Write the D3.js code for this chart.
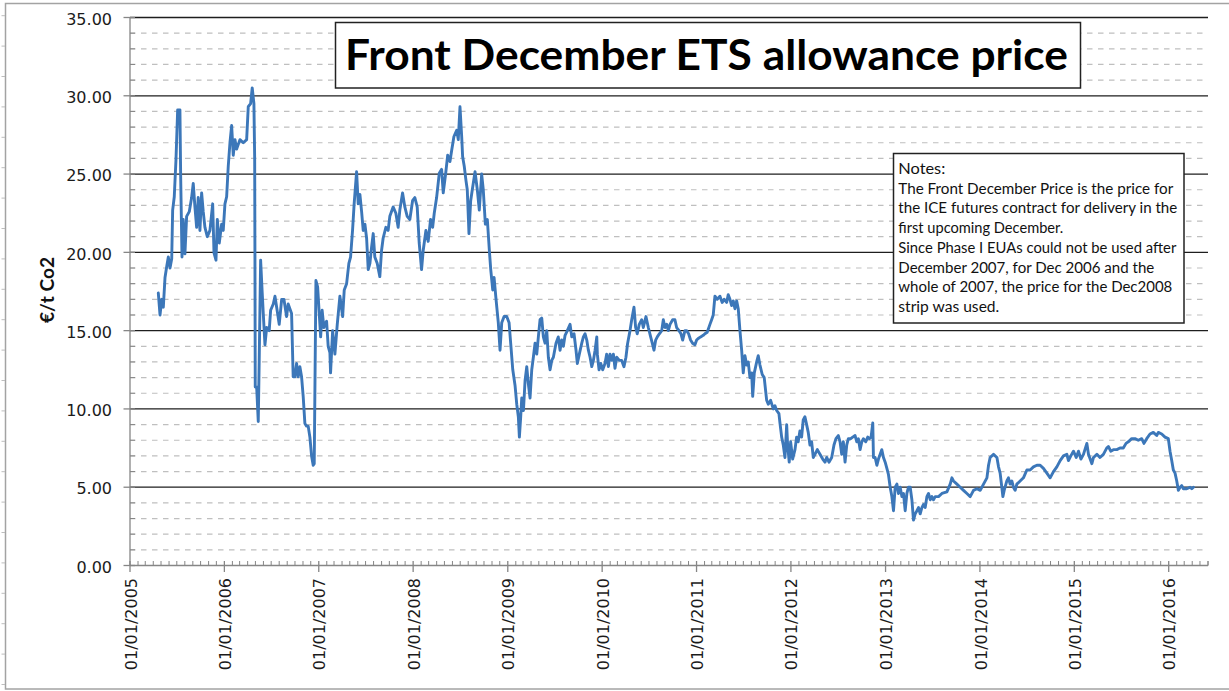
<!DOCTYPE html>
<html><head><meta charset="utf-8">
<script src="https://cdn.jsdelivr.net/npm/d3@7"></script>
<style>body{margin:0;background:#fff} svg{display:block}</style>
</head><body>
<svg id="chart" width="1229" height="691"></svg>
<script>
// ---------- DATA ----------
const titleText = "Front December ETS allowance price";
const yAxisLabel = "€/t Co2";
const yTickValues = [0, 5, 10, 15, 20, 25, 30, 35];
const xTickYears = [2005, 2006, 2007, 2008, 2009, 2010, 2011, 2012, 2013, 2014, 2015, 2016];
const notesLines = [
  "Notes:",
  "The Front December Price is the price for",
  "the ICE futures contract for delivery in the",
  "first upcoming December.",
  "Since Phase I EUAs could not be used after",
  "December 2007, for Dec 2006 and the",
  "whole of 2007, the price for the Dec2008",
  "strip was used."
];
const notesWidths = [47, 275, 279, 165, 278, 256, 274, 101];

// [fraction of year, €/t]
const p2005 = [[.300,17.4],[.318,16.0],[.336,17.0],[.353,16.5],[.371,18.4],[.389,19.1],[.406,19.7],[.424,19.0],[.442,19.6],[.452,22.7],[.469,23.55],[.487,25.9],[.505,29.1],[.529,29.1],[.537,24.8],[.551,19.7],[.564,22.1],[.582,19.9],[.600,22.3],[.628,22.6],[.653,23.5],[.670,24.4],[.688,22.9],[.706,21.6],[.723,23.5],[.741,21.4],[.759,23.8],[.776,22.6],[.794,21.6],[.819,21.0],[.847,21.4],[.876,23.1],[.890,19.97],[.911,19.5],[.925,22.1],[.946,20.6],[.971,21.8],[.988,21.4]];
const p2006 = [[.006,23.1],[.024,23.55],[.041,25.5],[.059,27.0],[.077,28.1],[.094,26.2],[.112,27.2],[.130,26.6],[.165,27.2],[.200,27.0],[.236,27.2],[.253,29.3],[.278,29.5],[.295,30.5],[.313,29.5],[.321,26.0],[.324,19.5],[.327,11.4],[.342,11.4],[.359,9.2],[.369,13.1],[.384,19.5],[.401,17.4],[.412,16.1],[.430,14.1],[.448,15.2],[.475,15.0],[.490,16.3],[.518,16.7],[.536,17.2],[.554,16.5],[.581,15.4],[.607,17.0],[.631,17.0],[.659,15.9],[.676,16.7],[.712,16.1],[.729,12.05],[.747,12.05],[.765,12.9],[.782,12.05],[.800,12.7],[.818,12.05],[.835,10.8],[.853,9.07],[.871,8.9],[.888,8.9],[.906,8.2],[.924,7.0],[.941,6.4],[.952,6.5],[.970,18.2],[.988,17.8]];
const p2007 = [[.005,16.1],[.020,14.6],[.036,16.3],[.054,15.2],[.065,15.4],[.083,15.6],[.100,14.0],[.118,13.6],[.125,12.3],[.147,15.0],[.171,13.5],[.196,15.4],[.224,17.2],[.253,15.9],[.270,17.6],[.295,18.0],[.319,19.3],[.337,19.7],[.358,21.4],[.375,23.1],[.401,25.15],[.418,23.1],[.436,23.7],[.454,22.6],[.471,21.4],[.489,21.8],[.507,20.9],[.524,18.9],[.542,19.3],[.559,20.3],[.577,21.2],[.594,19.7],[.619,19.3],[.647,18.45],[.665,20.1],[.682,20.9],[.711,21.6],[.735,21.4],[.753,22.3],[.788,22.9],[.817,22.5],[.841,21.6],[.859,22.7],[.888,23.8],[.912,22.9],[.937,22.3],[.965,22.1],[.994,23.3]];
const p2008 = [[.018,23.5],[.043,22.9],[.064,20.6],[.089,18.9],[.106,20.1],[.135,21.4],[.159,20.7],[.184,22.1],[.206,21.6],[.223,22.5],[.248,23.5],[.276,25.05],[.301,25.3],[.318,23.8],[.344,25.05],[.365,26.2],[.389,25.8],[.407,26.5],[.431,27.4],[.460,27.8],[.477,27.2],[.495,29.3],[.513,27.4],[.523,26.1],[.540,25.5],[.558,24.6],[.572,24.0],[.590,21.2],[.608,23.3],[.625,24.0],[.654,25.15],[.678,24.0],[.699,22.7],[.724,25.0],[.741,24.0],[.763,21.8],[.784,22.1],[.805,20.15],[.820,18.9],[.841,17.6],[.855,18.4],[.876,17.0],[.900,15.5],[.918,13.75],[.936,15.5],[.961,15.9],[.989,15.9]];
const p2009 = [[.014,15.5],[.032,14.1],[.053,12.5],[.077,11.5],[.095,10.3],[.112,9.5],[.123,8.2],[.137,9.5],[.148,10.7],[.166,9.9],[.183,11.8],[.201,12.7],[.218,11.6],[.236,10.7],[.254,12.5],[.271,13.3],[.289,14.2],[.307,13.5],[.324,14.6],[.342,15.7],[.360,15.8],[.377,14.6],[.395,14.2],[.413,15.0],[.430,13.3],[.448,12.5],[.466,13.1],[.483,13.3],[.511,14.2],[.535,14.6],[.554,13.75],[.571,14.4],[.589,14.0],[.607,14.7],[.631,15.0],[.660,15.4],[.678,14.6],[.702,14.8],[.723,13.75],[.737,12.9],[.758,13.5],[.784,14.2],[.801,14.6],[.819,14.8],[.837,14.4],[.854,13.75],[.872,13.3],[.890,12.7],[.907,13.1],[.925,13.75],[.943,14.6],[.949,13.5],[.967,12.5],[.985,12.9]];
const p2010 = [[.006,12.5],[.030,12.9],[.048,13.5],[.066,12.7],[.083,13.5],[.101,13.1],[.119,13.5],[.136,12.6],[.154,13.3],[.182,13.1],[.207,13.1],[.231,12.7],[.252,13.3],[.270,14.2],[.295,15.0],[.313,15.7],[.337,16.5],[.355,15.2],[.372,14.8],[.393,15.4],[.419,15.7],[.436,15.2],[.464,15.9],[.489,15.2],[.514,14.6],[.531,14.2],[.549,13.75],[.567,14.4],[.584,14.6],[.606,14.8],[.631,15.0],[.648,15.7],[.666,15.2],[.684,15.4],[.701,15.0],[.719,15.4],[.747,15.7],[.771,15.7],[.789,15.2],[.814,15.0],[.835,14.8],[.853,14.4],[.877,15.0],[.895,15.0],[.916,14.8],[.937,14.4],[.958,14.2],[.983,14.1]];
const p2011 = [[.001,14.4],[.018,14.5],[.043,14.6],[.071,14.7],[.089,14.8],[.113,14.9],[.142,15.4],[.160,15.7],[.177,16.0],[.195,17.2],[.219,17.0],[.248,17.2],[.272,16.8],[.293,17.0],[.319,16.8],[.336,17.3],[.354,17.0],[.372,16.6],[.389,16.9],[.407,16.4],[.425,16.9],[.442,16.4],[.460,15.0],[.478,13.75],[.495,12.3],[.513,13.4],[.531,12.8],[.548,13.0],[.566,12.0],[.584,12.3],[.595,10.8],[.612,12.3],[.637,13.0],[.654,13.4],[.672,12.8],[.696,12.2],[.717,12.0],[.743,10.55],[.760,10.3],[.785,10.55],[.813,10.0],[.831,10.2],[.849,9.9],[.873,9.7],[.884,9.1],[.902,8.2],[.919,7.7],[.937,6.9],[.955,9.0],[.965,7.7],[.982,6.6],[.997,7.9]];
const p2012 = [[.018,6.8],[.043,7.4],[.060,8.2],[.077,7.9],[.095,8.6],[.113,8.2],[.130,9.3],[.148,9.5],[.166,9.0],[.183,8.5],[.201,7.7],[.219,7.9],[.236,6.9],[.254,7.1],[.279,7.4],[.307,7.1],[.336,6.8],[.360,6.6],[.378,6.9],[.402,6.6],[.431,6.9],[.455,7.7],[.476,8.1],[.501,8.3],[.519,7.9],[.537,7.1],[.554,7.9],[.572,6.6],[.590,7.7],[.607,8.1],[.632,8.1],[.653,8.2],[.678,8.3],[.696,7.9],[.713,8.1],[.731,7.4],[.749,7.9],[.766,8.1],[.791,7.9],[.812,8.2],[.829,8.1],[.847,8.2],[.865,9.1],[.872,6.9],[.890,6.9],[.908,6.4],[.925,6.8],[.943,7.1],[.960,7.4],[.978,6.9],[.996,6.6]];
const p2013 = [[.014,6.2],[.031,5.8],[.049,5.0],[.067,4.4],[.084,3.5],[.102,5.0],[.120,5.2],[.137,4.6],[.155,5.0],[.173,4.4],[.190,4.6],[.208,3.5],[.226,4.6],[.243,5.0],[.261,5.0],[.279,4.2],[.296,2.9],[.314,3.3],[.332,3.5],[.349,3.7],[.367,3.3],[.385,3.7],[.402,3.9],[.420,3.7],[.438,4.4],[.455,4.6],[.473,4.2],[.491,4.4],[.508,4.2],[.526,4.4],[.561,4.4],[.597,4.6],[.650,4.7],[.685,5.2],[.703,5.6],[.720,5.4],[.756,5.2],[.791,5.0],[.826,4.8],[.862,4.6],[.897,4.4],[.932,4.8],[.968,4.9]];
const p2014 = [[.003,4.8],[.038,5.2],[.074,5.6],[.091,6.4],[.108,6.9],[.144,7.1],[.180,6.9],[.197,6.3],[.214,5.9],[.232,5.0],[.243,4.4],[.257,4.8],[.285,5.4],[.302,5.6],[.320,5.2],[.338,5.4],[.355,5.0],[.373,4.8],[.391,5.2],[.426,5.4],[.461,5.6],[.497,6.1],[.532,6.1],[.567,6.3],[.603,6.4],[.638,6.4],[.673,6.2],[.709,5.9],[.744,5.6],[.779,6.0],[.815,6.3],[.850,6.7],[.885,7.0],[.921,7.1],[.938,6.7],[.963,7.0],[.991,7.3]];
const p2015 = [[.020,6.9],[.044,7.3],[.070,6.8],[.097,7.1],[.133,7.8],[.150,7.1],[.168,6.8],[.186,6.5],[.203,6.9],[.239,7.1],[.272,6.9],[.308,7.1],[.343,7.5],[.361,7.6],[.386,7.3],[.414,7.4],[.450,7.4],[.484,7.5],[.519,7.5],[.548,7.8],[.572,7.9],[.608,8.1],[.643,8.1],[.678,8.0],[.714,8.1],[.738,7.8],[.767,8.1],[.802,8.4],[.837,8.5],[.873,8.3],[.890,8.5],[.926,8.4],[.961,8.2],[.996,8.1]];
const p2016 = [[.014,7.3],[.032,6.7],[.049,6.1],[.067,5.9],[.085,5.4],[.102,4.8],[.120,5.0],[.138,5.1],[.155,4.9],[.191,4.9],[.226,5.0],[.244,4.9],[.261,5.0]];

// ---------- BUILD ----------
function fracToDate(year, f) {
  const s = Date.UTC(year, 0, 1), e = Date.UTC(year + 1, 0, 1);
  return new Date(s + f * (e - s));
}
const yearly = [[2005,p2005],[2006,p2006],[2007,p2007],[2008,p2008],[2009,p2009],[2010,p2010],[2011,p2011],[2012,p2012],[2013,p2013],[2014,p2014],[2015,p2015],[2016,p2016]];
const series = [];
yearly.forEach(([yr, arr]) => arr.forEach(([f, v]) => series.push({date: fracToDate(yr, f), value: v})));

const svg = d3.select("#chart");
const plotL = 130, plotR = 1208, plotT = 17.5, plotB = 565.5;

const x = d3.scaleUtc()
  .domain([new Date(Date.UTC(2005,0,1)), new Date(Date.UTC(2016,5,1))])
  .range([plotL, plotR]);
const y = d3.scaleLinear().domain([0, 35]).range([plotB, plotT]);

// background + outer border
svg.append("rect").attr("width",1229).attr("height",691).attr("fill","#fff");
svg.append("rect").attr("x",5.5).attr("y",3.5).attr("width",1240).attr("height",685.5)
  .attr("fill","none").attr("stroke","#a3a3a3").attr("stroke-width",1.5);
svg.append("g").selectAll("line").data(d3.range(0, 23)).join("line")
  .attr("x1",1.5).attr("x2",5).attr("y1",k=>15.7+30.4*k).attr("y2",k=>15.7+30.4*k)
  .attr("stroke","#bdbdbd").attr("stroke-width",1);

// minor grid (dashed)
const minorVals = d3.range(1, 35).filter(v => v % 5 !== 0);
svg.append("g").selectAll("line").data(minorVals).join("line")
  .attr("x1",plotL).attr("x2",plotR)
  .attr("y1",d=>y(d)).attr("y2",d=>y(d))
  .attr("stroke","#bfbfbf").attr("stroke-width",1.2).attr("stroke-dasharray","5.5,5.5");

// major grid
svg.append("g").selectAll("line").data(yTickValues.filter(v=>v>0)).join("line")
  .attr("x1",plotL).attr("x2",plotR)
  .attr("y1",d=>y(d)).attr("y2",d=>y(d))
  .attr("stroke","#1e1e1e").attr("stroke-width",1.3);

// y axis
const axisColor = "#868686";
const yAxis = svg.append("g");
yAxis.append("line").attr("x1",plotL).attr("x2",plotL).attr("y1",plotT).attr("y2",plotB)
  .attr("stroke",axisColor).attr("stroke-width",1.3);
yAxis.selectAll(".ymaj").data(yTickValues).join("line")
  .attr("x1",plotL-6.5).attr("x2",plotL+5).attr("y1",d=>y(d)).attr("y2",d=>y(d))
  .attr("stroke",axisColor).attr("stroke-width",1.3);
yAxis.selectAll(".ymin").data(minorVals).join("line")
  .attr("x1",plotL).attr("x2",plotL+5).attr("y1",d=>y(d)).attr("y2",d=>y(d))
  .attr("stroke",axisColor).attr("stroke-width",1);
yAxis.selectAll("text").data(yTickValues).join("text")
  .attr("x",112).attr("y",d=>y(d)).attr("dy","0.45em")
  .attr("text-anchor","end")
  .attr("font-family","'DejaVu Sans', sans-serif").attr("font-size",16).attr("fill","#1b1b1b")
  .text(d=>d3.format(".2f")(d));

// x axis
const xAxis = svg.append("g");
xAxis.append("line").attr("x1",plotL).attr("x2",plotR).attr("y1",plotB).attr("y2",plotB)
  .attr("stroke",axisColor).attr("stroke-width",1.3);
const months = d3.utcMonth.range(x.domain()[0], new Date(x.domain()[1].getTime()+1)).filter(d=>d.getUTCMonth()!==0);
xAxis.selectAll(".xmin").data(months).join("line")
  .attr("x1",d=>x(d)).attr("x2",d=>x(d)).attr("y1",plotB-4.5).attr("y2",plotB)
  .attr("stroke",axisColor).attr("stroke-width",1);
const yearDates = xTickYears.map(yr => new Date(Date.UTC(yr,0,1)));
xAxis.selectAll(".xmaj").data(yearDates).join("line")
  .attr("x1",d=>x(d)).attr("x2",d=>x(d)).attr("y1",plotB-4.5).attr("y2",plotB+6.5)
  .attr("stroke",axisColor).attr("stroke-width",1.3);
xAxis.append("line").attr("x1",plotR).attr("x2",plotR).attr("y1",plotB-4.5).attr("y2",plotB)
  .attr("stroke",axisColor).attr("stroke-width",1);
const fmt = d3.utcFormat("%d/%m/%Y");
xAxis.selectAll("text").data(yearDates).join("text")
  .attr("transform",d=>`translate(${x(d)+0.8},578) rotate(-90)`)
  .attr("dy","0.36em").attr("text-anchor","end")
  .attr("font-family","'DejaVu Sans', sans-serif").attr("font-size",16).attr("fill","#1b1b1b")
  .text(d=>fmt(d));

// y axis title
svg.append("text")
  .attr("transform","translate(54,290) rotate(-90)")
  .attr("text-anchor","middle")
  .attr("font-family","Lato, 'Open Sans', sans-serif").attr("font-weight","bold").attr("font-size",18)
  .attr("textLength",66).attr("lengthAdjust","spacingAndGlyphs")
  .attr("fill","#111").text(yAxisLabel);

// price line
const line = d3.line().x(d=>x(d.date)).y(d=>y(d.value));
svg.append("path").datum(series).attr("d",line)
  .attr("fill","none").attr("stroke","#3c77b9").attr("stroke-width",2.9)
  .attr("stroke-linejoin","round").attr("stroke-linecap","round");

// title box
svg.append("rect").attr("x",335.5).attr("y",22.5).attr("width",745).attr("height",65.5)
  .attr("fill","#fff").attr("stroke","#222").attr("stroke-width",1.5);
svg.append("text").attr("x",345).attr("y",70)
  .attr("font-family","Lato, 'Open Sans', sans-serif").attr("font-weight","bold").attr("font-size",42)
  .attr("textLength",723).attr("lengthAdjust","spacingAndGlyphs")
  .attr("fill","#000").text(titleText);

// notes box
svg.append("rect").attr("x",893.5).attr("y",153.5).attr("width",290.5).attr("height",169.5)
  .attr("fill","#fff").attr("stroke","#222").attr("stroke-width",1.5);
svg.append("g").selectAll("text").data(notesLines).join("text")
  .attr("x",898.3).attr("y",(d,i)=>174+19.7*i)
  .attr("font-family","Lato, 'Open Sans', sans-serif").attr("font-size",14.5)
  .attr("textLength",(d,i)=>notesWidths[i]).attr("lengthAdjust","spacingAndGlyphs")
  .attr("fill","#111").text(d=>d);
</script>
</body></html>
